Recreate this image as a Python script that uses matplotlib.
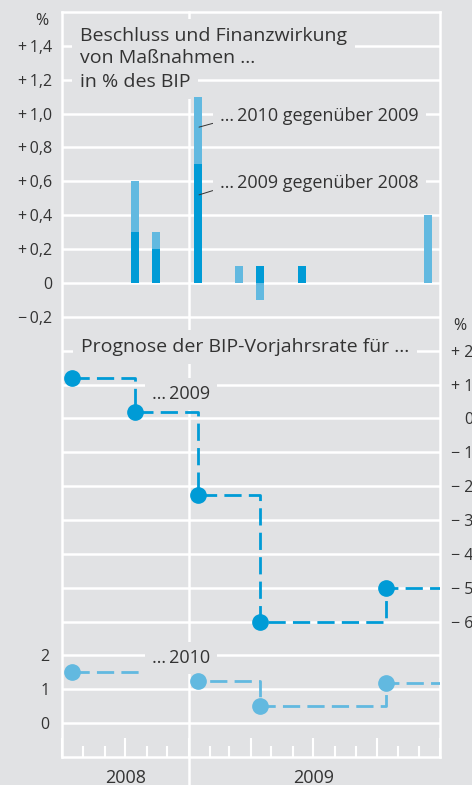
import matplotlib
matplotlib.use("Agg")
import matplotlib.pyplot as plt
import matplotlib.dates as mdates
import matplotlib.transforms as mtransforms
from matplotlib.ticker import FixedLocator, FuncFormatter
import numpy as np

# Beschluss und Finanzwirkung von Massnahmen, in % des BIP
bar_dates = np.array(["2008-10-15", "2008-11-15", "2009-01-15", "2009-03-15",
                      "2009-04-15", "2009-06-15", "2009-12-15"], dtype="datetime64[D]")
effect_2009 = np.array([0.3, 0.2, 0.7, 0.0, 0.1, 0.1, 0.0])    # 2009 gegenueber 2008
effect_2010 = np.array([0.3, 0.1, 0.4, 0.1, -0.1, 0.0, 0.4])   # 2010 gegenueber 2009

# Prognose der BIP-Vorjahrsrate
fc09_dates = np.array(["2008-07-15", "2008-10-15", "2009-01-15", "2009-04-15",
                       "2009-10-15"], dtype="datetime64[D]")
fc09_values = np.array([1.2, 0.2, -2.25, -6.0, -5.0])
fc10_dates = np.array(["2008-07-15", "2009-01-15", "2009-04-15", "2009-10-15"],
                      dtype="datetime64[D]")
fc10_values = np.array([1.5, 1.25, 0.5, 1.2])

top_ticks = [1.4, 1.2, 1.0, 0.8, 0.6, 0.4, 0.2, 0.0, -0.2]
right_ticks = [2, 1, 0, -1, -2, -3, -4, -5, -6]
lowleft_ticks = [2, 1, 0]
year_labels = ["2008", "2009"]
year_centers = np.array(["2008-10-01", "2009-07-01"], dtype="datetime64[D]")
x_start = np.datetime64("2008-07-01")
x_end = np.datetime64("2010-01-01")
year_break = np.datetime64("2009-01-01")

BG = "#E1E2E4"
DARK = "#009BD6"
LIGHT = "#62B9E0"
TXT = "#333333"
plt.rcParams["font.family"] = ["Open Sans", "DejaVu Sans"]


def fmt_dec(v, pos=None):
    s = f"{abs(v):.1f}".replace(".", ",")
    if abs(v) < 1e-9:
        return "0"
    return ("+" if v > 0 else "\u2212") + "\u2009" + s


def fmt_signed(v, pos=None):
    if v == 0:
        return "0"
    return ("+ " if v > 0 else "\u2212 ") + f"{abs(v):.0f}"


fig = plt.figure(figsize=(4.72, 7.85), dpi=100, facecolor=BG)
ax = fig.add_axes([62 / 472, 28 / 785, 378 / 472, 745 / 785], facecolor=BG)
ax09 = ax.twinx()
ax10 = ax.twinx()

ax.set_xlim(x_start, x_end)
ax.set_ylim(-2.8, 1.6)
ax09.set_ylim(-10, 12)
ax10.set_ylim(-1, 21)

# grid + frame
for a in (ax, ax09, ax10):
    a.set_axisbelow(True)
    a.yaxis.grid(True, color="white", lw=1.8)
    a.xaxis.grid(False)
for a in (ax09, ax10):
    a.patch.set_visible(False)
    for sp in a.spines.values():
        sp.set_visible(False)
for sp in ax.spines.values():
    sp.set_color("white")
    sp.set_linewidth(1.8)

ax.yaxis.set_major_locator(FixedLocator(top_ticks))
ax.yaxis.set_major_formatter(FuncFormatter(fmt_dec))
ax.tick_params(axis="y", length=0, pad=7, labelsize=11.5, labelcolor=TXT)

ax10.yaxis.tick_left()
ax10.yaxis.set_major_locator(FixedLocator(lowleft_ticks))
ax10.yaxis.set_major_formatter(FuncFormatter(lambda v, p: f"{v:.0f}"))
ax10.tick_params(axis="y", length=0, pad=9, labelsize=11.5, labelcolor=TXT)

ax09.yaxis.set_major_locator(FixedLocator(right_ticks))
ax09.yaxis.set_major_formatter(FuncFormatter(fmt_signed))
ax09.tick_params(axis="y", length=0, pad=24, labelsize=11.5, labelcolor=TXT)
for lab in ax09.get_yticklabels():
    lab.set_horizontalalignment("right")

ax.xaxis.set_major_locator(mdates.MonthLocator(bymonth=[1, 4, 7, 10]))
ax.xaxis.set_minor_locator(mdates.MonthLocator())
ax.tick_params(axis="x", which="both", direction="in", colors="white",
               width=1.5, labelbottom=False)
ax.tick_params(axis="x", which="major", length=13.5)
ax.tick_params(axis="x", which="minor", length=8)

ax.axvline(year_break, ymin=-0.05, ymax=1, color="white", lw=1.8,
           clip_on=False, zorder=1)

# bars (drawn above the label boxes)
ax.bar(bar_dates, effect_2009, width=11.5, color=DARK, zorder=4)
ax.bar(bar_dates, effect_2010, width=11.5,
       bottom=np.where(effect_2010 >= 0, effect_2009, 0), color=LIGHT, zorder=4)

# forecast step lines
dash = (0, (6.2, 2.6))
ax09.plot(np.append(fc09_dates, x_end), np.append(fc09_values, fc09_values[-1]),
          drawstyle="steps-post", ls=dash, lw=2, color=DARK, zorder=3)
ax09.plot(fc09_dates, fc09_values, "o", ms=11, color=DARK, zorder=4)
ax10.plot(np.append(fc10_dates, x_end), np.append(fc10_values, fc10_values[-1]),
          drawstyle="steps-post", ls=dash, lw=2, color=LIGHT, zorder=3)
ax10.plot(fc10_dates, fc10_values, "o", ms=11, color=LIGHT, zorder=4)

# texts
box = dict(boxstyle="square,pad=0.4", fc=BG, ec="none")
tkw = dict(fontsize=14, color=TXT, va="baseline", ha="left", bbox=box)
lkw = dict(tkw, fontsize=13)
ax.text(0.048, 0.9611, "Beschluss und Finanzwirkung", transform=ax.transAxes, **tkw)
ax.text(0.048, 0.9315, "von Maßnahmen ...", transform=ax.transAxes, **tkw)
ax.text(0.048, 0.8993, "in % des BIP", transform=ax.transAxes, **tkw)

lead = dict(arrowstyle="-", color=TXT, lw=0.7, relpos=(0, 0.2), shrinkA=0, shrinkB=0)
ax.annotate("\u2026\u20092010 gegenüber 2009", xy=(bar_dates[2] + 1, 0.92),
            xytext=(0.418, 0.8537), textcoords="axes fraction",
            arrowprops=lead, zorder=5, **lkw)
ax.annotate("\u2026\u20092009 gegenüber 2008", xy=(bar_dates[2] + 1, 0.52),
            xytext=(0.418, 0.7638), textcoords="axes fraction",
            arrowprops=lead, zorder=5, **lkw)

ax09.text(0.05, 0.5436, "Prognose der BIP-Vorjahrsrate für ...",
          transform=ax09.transAxes, **tkw)
ax09.text(0.238, 0.4805, "\u2026\u20092009", transform=ax09.transAxes, **lkw)
ax10.text(0.238, 0.1262, "\u2026\u20092010", transform=ax10.transAxes, **lkw)

ax.text(-0.037, 0.9826, "%", transform=ax.transAxes, fontsize=11.5, color=TXT,
        ha="right", va="baseline")
ax.text(1.034, 0.573, "%", transform=ax.transAxes, fontsize=11.5, color=TXT,
        ha="left", va="baseline")

trans = mtransforms.blended_transform_factory(ax.transData, ax.transAxes)
for lbl, xc in zip(year_labels, year_centers):
    ax.text(xc, -0.035, lbl, transform=trans, fontsize=13, color=TXT,
            ha="center", va="baseline", clip_on=False)

fig.savefig("out.png", dpi=100, facecolor=BG)
